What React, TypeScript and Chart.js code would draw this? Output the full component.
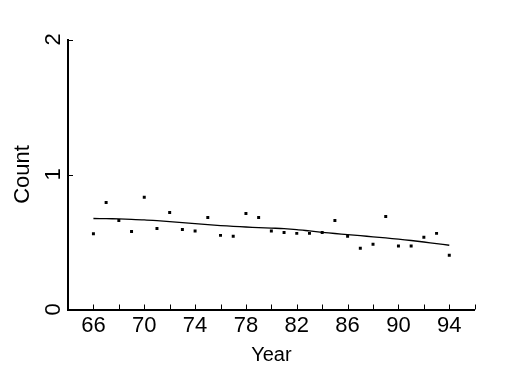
import React, { useEffect, useRef } from "react";
import { Chart, registerables } from "chart.js";

Chart.register(...registerables);

const years = [66, 67, 68, 69, 70, 71, 72, 73, 74, 75, 76, 77, 78, 79, 80, 81, 82, 83, 84, 85, 86, 87, 88, 89, 90, 91, 92, 93, 94];
const counts = [0.561, 0.792, 0.659, 0.578, 0.831, 0.6, 0.718, 0.593, 0.581, 0.681, 0.549, 0.542, 0.711, 0.681, 0.581, 0.571, 0.564, 0.564, 0.571, 0.659, 0.542, 0.454, 0.483, 0.689, 0.471, 0.471, 0.535, 0.564, 0.402];
const trend = [0.674, 0.673, 0.671, 0.668, 0.664, 0.658, 0.651, 0.643, 0.636, 0.629, 0.622, 0.616, 0.611, 0.607, 0.603, 0.599, 0.592, 0.582, 0.572, 0.563, 0.555, 0.547, 0.538, 0.53, 0.521, 0.511, 0.5, 0.488, 0.476];
const yTickValues = [0, 1, 2];
const xTickStep = 2;
const xLabelEvery = 4;
const xMin = 64;
const xMax = 96;

const FONT = "'Liberation Sans', Arial, sans-serif";

const inwardTicks = {
  id: "inwardTicks",
  afterDraw(chart: any) {
    const { ctx, chartArea, scales } = chart;
    ctx.save();
    ctx.strokeStyle = "#000";
    ctx.lineWidth = 1;
    const xs = scales.x;
    xs.ticks.forEach((t: any) => {
      const px = Math.round(xs.getPixelForValue(t.value)) + 0.5;
      ctx.beginPath();
      ctx.moveTo(px, chartArea.bottom);
      ctx.lineTo(px, chartArea.bottom - 5);
      ctx.stroke();
    });
    const ys = scales.y;
    ys.ticks.forEach((t: any) => {
      const py = Math.round(ys.getPixelForValue(t.value)) + 0.5;
      ctx.beginPath();
      ctx.moveTo(chartArea.left, py);
      ctx.lineTo(chartArea.left + 5, py);
      ctx.stroke();
    });
    ctx.restore();
  },
};

export default function App() {
  const ref = useRef<HTMLCanvasElement | null>(null);
  useEffect(() => {
    if (!ref.current) return;
    const chart = new Chart(ref.current, {
      type: "scatter",
      data: {
        datasets: [
          {
            type: "scatter",
            data: years.map((y, i) => ({ x: y, y: counts[i] })),
            pointStyle: "rect",
            pointRadius: 2.1,
            backgroundColor: "#000",
            borderWidth: 0,
          },
          {
            type: "line",
            data: years.map((y, i) => ({ x: y, y: trend[i] })),
            borderColor: "#000",
            borderWidth: 1.3,
            pointRadius: 0,
            tension: 0.3,
            fill: false,
          } as any,
        ],
      },
      options: {
        animation: false,
        responsive: false,
        layout: { padding: { top: 39.5, right: 50.3, left: 0, bottom: 0 } },
        plugins: { legend: { display: false }, tooltip: { enabled: false } },
        scales: {
          x: {
            type: "linear",
            min: xMin,
            max: xMax,
            afterFit: (s: any) => {
              s.height = 65.5;
            },
            afterBuildTicks: (s: any) => {
              const t = [];
              for (let v = xMin; v <= xMax; v += xTickStep) t.push({ value: v });
              s.ticks = t;
            },
            grid: { display: false, drawTicks: false },
            border: { display: true, color: "#000", width: 2 },
            ticks: {
              autoSkip: false,
              maxRotation: 0,
              minRotation: 0,
              padding: 3,
              color: "#000",
              font: { family: FONT, size: 22 },
              callback: (v: any) => ((v - years[0]) % xLabelEvery === 0 ? String(v) : ""),
            },
            title: {
              display: true,
              text: "Year",
              color: "#000",
              font: { family: FONT, size: 20 },
              padding: { top: 0, bottom: 8 },
            },
          },
          y: {
            type: "linear",
            min: yTickValues[0],
            max: yTickValues[yTickValues.length - 1],
            afterFit: (s: any) => {
              s.width = 68;
            },
            afterBuildTicks: (s: any) => {
              s.ticks = yTickValues.map((v) => ({ value: v }));
            },
            grid: { display: false, drawTicks: false },
            border: { display: true, color: "#000", width: 2 },
            ticks: {
              minRotation: 90,
              maxRotation: 90,
              crossAlign: "center",
              padding: 8,
              color: "#000",
              font: { family: FONT, size: 22 },
              callback: (v: any) => String(v),
            },
            title: {
              display: true,
              text: "Count",
              color: "#000",
              font: { family: FONT, size: 22 },
              padding: { top: 10, bottom: 0 },
            },
          },
        },
      },
      plugins: [inwardTicks],
    } as any);
    return () => chart.destroy();
  }, []);
  return (
    <div style={{ position: "fixed", left: 0, top: 0, width: 525, height: 375, background: "#fff" }}>
      <canvas ref={ref} width={525} height={375} style={{ width: 525, height: 375 }} />
    </div>
  );
}
